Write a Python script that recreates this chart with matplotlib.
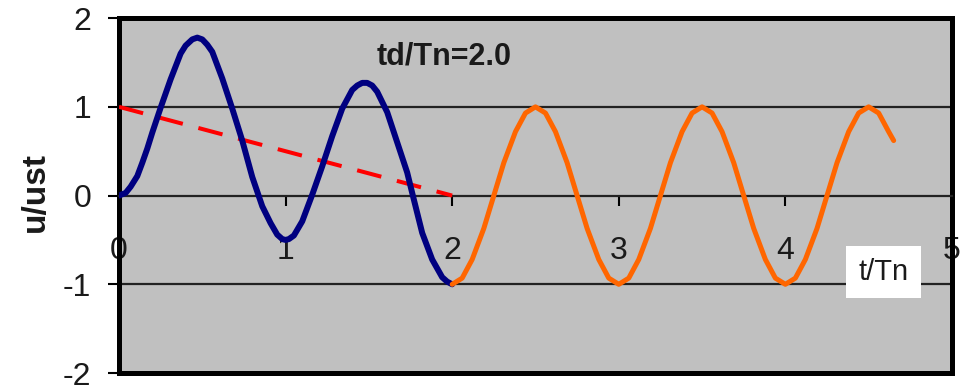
import matplotlib
matplotlib.use("Agg")
import matplotlib.pyplot as plt

# forced vibration phase (0 <= t/Tn <= td/Tn)
t_forced = [0.00, 0.04, 0.07, 0.11, 0.14, 0.17, 0.20, 0.25, 0.31, 0.37, 0.40, 0.44,
            0.47, 0.50, 0.53, 0.56, 0.62, 0.68, 0.74, 0.80, 0.86, 0.91, 0.95, 0.98,
            1.00, 1.02, 1.05, 1.10, 1.16, 1.22, 1.28, 1.34, 1.40, 1.43, 1.46, 1.49,
            1.52, 1.55, 1.61, 1.67, 1.73, 1.76, 1.82, 1.88, 1.94, 1.97, 2.00]
u_forced = [0.00, 0.03, 0.10, 0.22, 0.37, 0.53, 0.71, 0.99, 1.31, 1.60, 1.69, 1.76,
            1.78, 1.76, 1.70, 1.62, 1.32, 0.98, 0.62, 0.21, -0.12, -0.31, -0.44, -0.49,
            -0.50, -0.49, -0.45, -0.29, 0.01, 0.33, 0.67, 0.98, 1.19, 1.24, 1.27, 1.27,
            1.24, 1.17, 0.94, 0.60, 0.26, 0.03, -0.42, -0.72, -0.92, -0.97, -1.00]

# free vibration phase (t/Tn > td/Tn)
t_free = [2.00, 2.06, 2.12, 2.19, 2.25, 2.31, 2.38, 2.44, 2.50, 2.56, 2.62, 2.69,
          2.75, 2.81, 2.88, 2.94, 3.00, 3.06, 3.12, 3.19, 3.25, 3.31, 3.38, 3.44,
          3.50, 3.56, 3.62, 3.69, 3.75, 3.81, 3.88, 3.94, 4.00, 4.06, 4.12, 4.19,
          4.25, 4.31, 4.38, 4.44, 4.50, 4.56, 4.62, 4.65]
u_free = [-1.00, -0.93, -0.72, -0.37, 0.00, 0.37, 0.72, 0.93, 1.00, 0.93, 0.72, 0.37,
          0.00, -0.37, -0.72, -0.93, -1.00, -0.93, -0.72, -0.37, 0.00, 0.37, 0.72, 0.93,
          1.00, 0.93, 0.72, 0.37, 0.00, -0.37, -0.72, -0.93, -1.00, -0.93, -0.72, -0.37,
          0.00, 0.37, 0.72, 0.93, 1.00, 0.93, 0.72, 0.62]

# triangular load p(t)/p0
t_load = [0.0, 2.0]
p_load = [1.0, 0.0]

x_ticks = [0, 1, 2, 3, 4, 5]
y_ticks = [-2, -1, 0, 1, 2]
grid_levels = [-1, 1]

plt.rcParams['font.family'] = ['Liberation Sans', 'DejaVu Sans']
plt.rcParams['axes.unicode_minus'] = False

fig = plt.figure(figsize=(9.61, 3.85), dpi=100)
ax = fig.add_axes([0.1238, 0.031, 0.8668, 0.922])
ax.set_facecolor('#c0c0c0')
ax.set_xlim(0, 5)
ax.set_ylim(-2, 2)

for g in grid_levels:
    ax.axhline(g, color='#222222', lw=1.6, zorder=1)

ax.plot(t_load, p_load, color='#ff0000', lw=2.9, dashes=(6.2, 4), zorder=3)
ax.plot(t_forced, u_forced, color='#000080', lw=4.3, solid_capstyle='round',
        solid_joinstyle='round', zorder=4)
ax.plot(t_free, u_free, color='#ff6600', lw=3.6, solid_capstyle='round',
        solid_joinstyle='round', zorder=4)

# border
for side in ['left', 'top', 'right']:
    ax.spines[side].set_linewidth(3.6)
    ax.spines[side].set_color('black')
ax.spines['bottom'].set_position(('data', 0))
ax.spines['bottom'].set_linewidth(1.6)
ax.spines['bottom'].set_color('#222222')
ax.axhline(-2, color='black', lw=3.6, clip_on=False, zorder=5)

ax.set_xticks(x_ticks)
ax.set_yticks(y_ticks)
ax.tick_params(axis='x', direction='out', length=7, width=1.5, pad=22,
               labelsize=23, labelcolor='#1a1a1a')
ax.tick_params(axis='y', direction='out', length=8, width=1.5, pad=12,
               labelsize=23, labelcolor='#1a1a1a')

ax.set_ylabel('u/ust', fontsize=24, fontweight='bold', color='#1a1a1a')
ax.yaxis.set_label_coords(-0.082, 0.51)

ax.text(1.95, 1.57, 'td/Tn=2.0', fontsize=22, fontweight='bold', color='#1a1a1a',
        ha='center', va='center', zorder=6)
ax.text(4.59, -0.86, 't/Tn', fontsize=21, color='#1a1a1a', ha='center', va='center',
        zorder=6, bbox=dict(boxstyle='square,pad=0.42', facecolor='white', edgecolor='none'))

fig.savefig('out.png', dpi=100)
